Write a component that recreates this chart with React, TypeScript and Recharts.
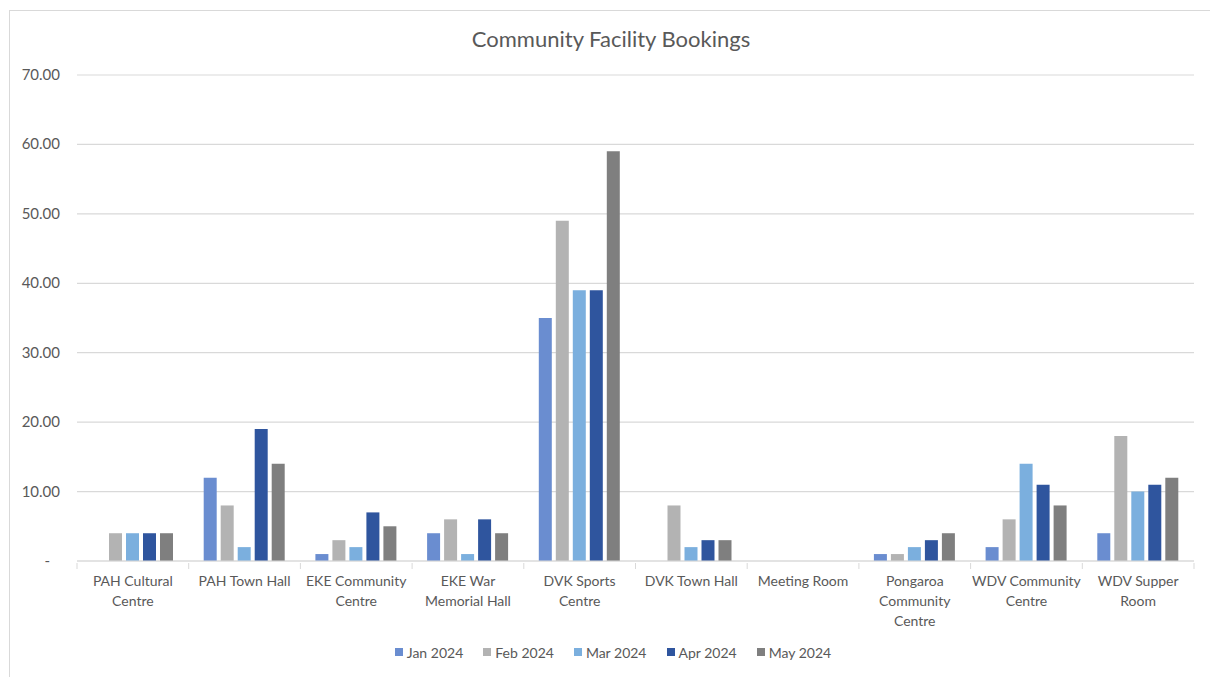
import React from "react";
import { BarChart, Bar, XAxis, YAxis, CartesianGrid, Legend } from "recharts";

// Facilities along the x axis
const facilities = [
  "PAH Cultural Centre",
  "PAH Town Hall",
  "EKE Community Centre",
  "EKE War Memorial Hall",
  "DVK Sports Centre",
  "DVK Town Hall",
  "Meeting Room",
  "Pongaroa Community Centre",
  "WDV Community Centre",
  "WDV Supper Room",
];

// Monthly bookings, one entry per facility
const jan2024 = [0, 12, 1, 4, 35, 0, 0, 1, 2, 4];
const feb2024 = [4, 8, 3, 6, 49, 8, 0, 1, 6, 18];
const mar2024 = [4, 2, 2, 1, 39, 2, 0, 2, 14, 10];
const apr2024 = [4, 19, 7, 6, 39, 3, 0, 3, 11, 11];
const may2024 = [4, 14, 5, 4, 59, 3, 0, 4, 8, 12];

const yTicks = [0, 10, 20, 30, 40, 50, 60, 70];

const series = [
  { key: "jan", name: "Jan 2024", color: "#6A8DD0" },
  { key: "feb", name: "Feb 2024", color: "#B3B3B3" },
  { key: "mar", name: "Mar 2024", color: "#7BAFDE" },
  { key: "apr", name: "Apr 2024", color: "#2F559E" },
  { key: "may", name: "May 2024", color: "#7F7F7F" },
];

const data = facilities.map((name, i) => ({
  name,
  jan: jan2024[i],
  feb: feb2024[i],
  mar: mar2024[i],
  apr: apr2024[i],
  may: may2024[i],
}));

const FONT = "Lato, 'Open Sans', sans-serif";
const TEXT = "#595959";
const LINE = "#D9D9D9";
const BAND = (1194 - 77) / facilities.length;

// greedy wrap, roughly what Excel does for these labels
const wrap = (s: string, max = 14) => {
  const lines: string[] = [];
  let cur = "";
  s.split(" ").forEach((w) => {
    if (cur && (cur + " " + w).length > max) {
      lines.push(cur);
      cur = w;
    } else {
      cur = cur ? cur + " " + w : w;
    }
  });
  if (cur) lines.push(cur);
  return lines;
};

const CategoryTick = (props: any) => {
  const { x, y, payload, index } = props;
  const lines = wrap(payload.value);
  const left = x - BAND / 2;
  return (
    <g>
      <line x1={left} y1={y} x2={left} y2={y + 6} stroke={LINE} />
      {index === facilities.length - 1 && (
        <line x1={left + BAND} y1={y} x2={left + BAND} y2={y + 6} stroke={LINE} />
      )}
      {lines.map((l, i) => (
        <text
          key={i}
          x={x}
          y={y + 23 + i * 20}
          textAnchor="middle"
          fill={TEXT}
          fontSize={14}
          fontFamily={FONT}
        >
          {l}
        </text>
      ))}
    </g>
  );
};

const ValueTick = (props: any) => {
  const { x, y, payload } = props;
  const label = payload.value === 0 ? "-" : payload.value.toFixed(2);
  return (
    <text
      x={payload.value === 0 ? x - 10 : x}
      y={y + 5}
      textAnchor="end"
      fill={TEXT}
      fontSize={15}
      fontFamily={FONT}
    >
      {label}
    </text>
  );
};

const LegendRow = () => (
  <div
    style={{
      height: 40,
      display: "flex",
      justifyContent: "center",
      alignItems: "center",
      gap: 20,
      fontFamily: FONT,
      fontSize: 14,
      color: TEXT,
      paddingLeft: 32,
    }}
  >
    {series.map((s) => (
      <span key={s.key} style={{ display: "flex", alignItems: "center", gap: 4 }}>
        <span style={{ width: 8, height: 8, background: s.color, display: "inline-block" }} />
        {s.name}
      </span>
    ))}
  </div>
);

export default function App() {
  return (
    <div
      style={{
        position: "absolute",
        left: 0,
        top: 0,
        width: 1210,
        height: 677,
        background: "#fff",
      }}
    >
      {/* frame edges from the original screenshot */}
      <div
        style={{
          position: "absolute",
          left: 9,
          top: 10,
          right: 0,
          bottom: 0,
          borderTop: `1px solid ${LINE}`,
          borderLeft: `1px solid ${LINE}`,
        }}
      />
      <div
        style={{
          position: "absolute",
          top: 25,
          left: 0,
          width: 1222,
          textAlign: "center",
          fontFamily: FONT,
          fontSize: 22,
          color: TEXT,
        }}
      >
        Community Facility Bookings
      </div>
      <BarChart
        width={1210}
        height={677}
        data={data}
        margin={{ top: 75, right: 16, left: 0, bottom: 5 }}
        barCategoryGap="12.5%"
        barGap={4}
      >
        <CartesianGrid vertical={false} stroke={LINE} strokeWidth={1.2} />
        <XAxis
          dataKey="name"
          interval={0}
          height={71}
          axisLine={{ stroke: LINE, strokeWidth: 1.2 }}
          tickLine={false}
          tickSize={0}
          tick={<CategoryTick />}
        />
        <YAxis
          width={77}
          domain={[0, 70]}
          ticks={yTicks}
          axisLine={false}
          tickLine={false}
          tickSize={0}
          tickMargin={17}
          tick={<ValueTick />}
        />
        <Legend verticalAlign="bottom" content={<LegendRow />} />
        {series.map((s) => (
          <Bar
            key={s.key}
            dataKey={s.key}
            name={s.name}
            fill={s.color}
            barSize={13}
            isAnimationActive={false}
          />
        ))}
      </BarChart>
    </div>
  );
}
